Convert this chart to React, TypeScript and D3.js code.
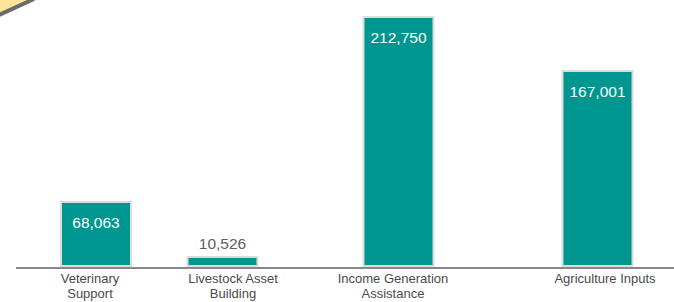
import React, { useRef, useEffect } from 'react';
import * as d3 from 'd3';

const categories = [
  ['Veterinary', 'Support'],
  ['Livestock Asset', 'Building'],
  ['Income Generation', 'Assistance'],
  ['Agriculture Inputs'],
];
// printed labels
const values = [68063, 10526, 212750, 167001];
// bar lengths as drawn in the picture (not exactly proportional to the labels)
const barLengths = [54700, 7700, 212750, 166600];

export default function App() {
  const svgRef = useRef<SVGSVGElement>(null);

  useEffect(() => {
    const width = 674;
    const height = 302;
    const svg = d3.select(svgRef.current);
    svg.selectAll('*').remove();

    const keys = categories.map(c => c.join(' '));
    const base = 266;

    const xBar = d3.scaleOrdinal<string, number>().domain(keys).range([96, 222.5, 398.5, 597.5]);
    const xLabel = d3.scaleOrdinal<string, number>().domain(keys).range([90, 233, 393, 605]);
    const y = d3.scaleLinear().domain([0, d3.max(barLengths)!]).range([base, 17]);
    const barW = 70;

    // corner ornament
    svg.append('path')
      .attr('d', 'M0,0 L32,0 L0,14 Z')
      .attr('fill', '#fee59b');
    svg.append('line')
      .attr('x1', 34).attr('y1', -1)
      .attr('x2', -1).attr('y2', 15)
      .attr('stroke', '#6b6b6b')
      .attr('stroke-width', 4);

    const g = svg.append('g');

    g.selectAll('rect.bar').data(barLengths)
      .enter().append('rect')
        .attr('class', 'bar')
        .attr('x', (d, i) => xBar(keys[i]) - barW / 2)
        .attr('y', d => y(d))
        .attr('width', barW)
        .attr('height', d => base - y(d))
        .attr('fill', '#009690')
        .attr('stroke', '#dcdcdc')
        .attr('stroke-width', 2);

    g.selectAll('text.val').data(values)
      .enter().append('text')
        .attr('class', 'val')
        .attr('x', (d, i) => xBar(keys[i]))
        .attr('y', (d, i) => (base - y(barLengths[i]) < 30 ? y(barLengths[i]) - 8 : y(barLengths[i]) + 26))
        .attr('text-anchor', 'middle')
        .attr('fill', (d, i) => (base - y(barLengths[i]) < 30 ? '#606060' : '#ffffff'))
        .attr('font-family', 'Liberation Sans, Arial, sans-serif')
        .attr('font-size', 15.5)
        .text(d => d3.format(',')(d));

    // axis line
    svg.append('line')
      .attr('x1', 16).attr('x2', width)
      .attr('y1', 268).attr('y2', 268)
      .attr('stroke', '#888888')
      .attr('stroke-width', 2);

    const labels = svg.selectAll('text.cat').data(categories)
      .enter().append('text')
        .attr('class', 'cat')
        .attr('text-anchor', 'middle')
        .attr('fill', '#4a4a4a')
        .attr('font-family', 'Liberation Sans, Arial, sans-serif')
        .attr('font-size', 13);

    labels.selectAll('tspan').data((d, i) => d.map(t => ({ t, i })))
      .enter().append('tspan')
        .attr('x', d => xLabel(keys[d.i]))
        .attr('y', (d, j) => 283 + j * 15)
        .text(d => d.t);

    svg.attr('width', width).attr('height', height);
  }, []);

  return (
    <div style={{ position: 'absolute', left: 0, top: 0, background: '#fff' }}>
      <svg ref={svgRef} width={674} height={302} style={{ display: 'block' }} />
    </div>
  );
}
